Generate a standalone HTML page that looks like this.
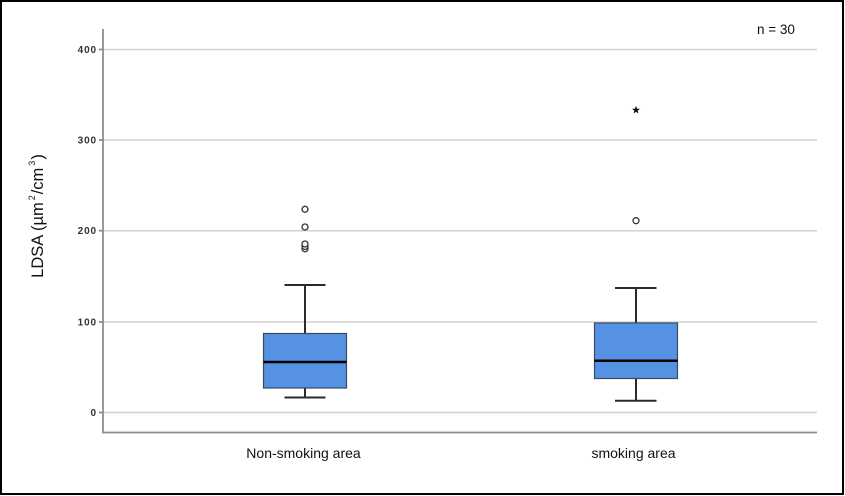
<!DOCTYPE html>
<html>
<head>
<meta charset="utf-8">
<style>
html,body{margin:0;padding:0;background:#fff;}
svg{display:block;}
</style>
</head>
<body>
<svg width="845" height="496" viewBox="0 0 845 496" xmlns="http://www.w3.org/2000/svg">
  <rect x="0" y="0" width="845" height="496" fill="#fff"/>
  <!-- outer frame -->
  <rect x="1" y="1" width="842" height="493" fill="none" stroke="#000" stroke-width="2"/>

  <!-- gridlines -->
  <g stroke="#d2d2d2" stroke-width="1.5">
    <line x1="103" y1="49.5" x2="817" y2="49.5"/>
    <line x1="103" y1="140" x2="817" y2="140"/>
    <line x1="103" y1="230.7" x2="817" y2="230.7"/>
    <line x1="103" y1="322" x2="817" y2="322"/>
    <line x1="103" y1="412.5" x2="817" y2="412.5"/>
  </g>

  <!-- axes -->
  <g stroke="#8c8c8c" stroke-width="1.8" fill="none">
    <line x1="103" y1="29" x2="103" y2="433"/>
    <line x1="102" y1="432.5" x2="817" y2="432.5"/>
    <line x1="99" y1="49.5" x2="103" y2="49.5"/>
    <line x1="99" y1="140" x2="103" y2="140"/>
    <line x1="99" y1="230.7" x2="103" y2="230.7"/>
    <line x1="99" y1="322" x2="103" y2="322"/>
    <line x1="99" y1="412.5" x2="103" y2="412.5"/>
  </g>

  <!-- tick labels -->
  <g font-family="Liberation Sans, Arial, sans-serif" font-size="10" font-weight="bold" fill="#333" text-anchor="end" letter-spacing="0.9">
    <text x="97" y="53">400</text>
    <text x="97" y="143.5">300</text>
    <text x="97" y="234">200</text>
    <text x="97" y="325.5">100</text>
    <text x="97" y="416">0</text>
  </g>

  <!-- y title -->
  <text transform="translate(43,216) rotate(-90)" font-family="Liberation Sans, Arial, sans-serif" font-size="16.5" fill="#111" text-anchor="middle">LDSA (µm<tspan font-size="9" dy="-8" dx="2">2</tspan><tspan dy="8" dx="1">/cm</tspan><tspan font-size="9" dy="-8" dx="2">3</tspan><tspan dy="8" dx="1">)</tspan></text>

  <!-- n = 30 -->
  <text x="776" y="34" font-family="Liberation Sans, Arial, sans-serif" font-size="13.5" fill="#111" text-anchor="middle">n = 30</text>

  <!-- Box 1 -->
  <g stroke="#2b2b2b" stroke-width="2" fill="none">
    <line x1="305" y1="285" x2="305" y2="333.5"/>
    <line x1="284.5" y1="285" x2="325.5" y2="285"/>
    <line x1="305" y1="388" x2="305" y2="397.5"/>
    <line x1="284.5" y1="397.5" x2="325.5" y2="397.5"/>
  </g>
  <rect x="263.5" y="333.5" width="83" height="54.5" fill="#5592e3" stroke="#3a4a5e" stroke-width="1.2"/>
  <line x1="263.5" y1="362" x2="346.5" y2="362" stroke="#000" stroke-width="2.5"/>

  <!-- outliers box 1 -->
  <g stroke="#333" stroke-width="1.3" fill="#fff">
    <circle cx="305" cy="209.3" r="3"/>
    <circle cx="305" cy="227" r="3"/>
    <circle cx="305" cy="248.8" r="3"/>
    <circle cx="305" cy="246.5" r="3"/>
    <circle cx="305" cy="244" r="3"/>
  </g>

  <!-- Box 2 -->
  <g stroke="#2b2b2b" stroke-width="2" fill="none">
    <line x1="636" y1="288" x2="636" y2="323"/>
    <line x1="615" y1="288" x2="656.5" y2="288"/>
    <line x1="636" y1="378.5" x2="636" y2="400.7"/>
    <line x1="615" y1="400.7" x2="656.5" y2="400.7"/>
  </g>
  <rect x="594.5" y="323" width="83" height="55.5" fill="#5592e3" stroke="#3a4a5e" stroke-width="1.2"/>
  <line x1="594.5" y1="360.8" x2="677.5" y2="360.8" stroke="#000" stroke-width="2.5"/>

  <!-- outliers box 2 -->
  <circle cx="636" cy="220.7" r="3" stroke="#333" stroke-width="1.3" fill="#fff"/>
  <polygon points="636,105.8 637.1,108.7 640.1,108.8 637.7,110.6 638.5,113.5 636,111.8 633.5,113.5 634.3,110.6 631.9,108.8 634.9,108.7" fill="#111"/>

  <!-- x labels -->
  <g font-family="Liberation Sans, Arial, sans-serif" font-size="14" fill="#111" text-anchor="middle">
    <text x="303.5" y="458">Non-smoking area</text>
    <text x="633.5" y="458">smoking area</text>
  </g>
</svg>
</body>
</html>
